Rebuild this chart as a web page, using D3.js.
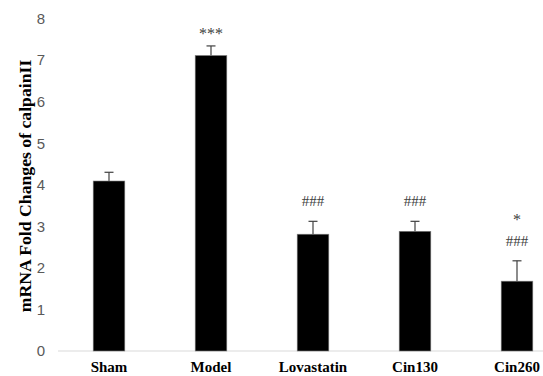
<!DOCTYPE html>
<html><head><meta charset="utf-8">
<script src="https://cdn.jsdelivr.net/npm/d3@7"></script>
<style>body{margin:0;background:#fff}svg{display:block}</style>
</head><body>
<script>
const categories = ["Sham","Model","Lovastatin","Cin130","Cin260"];
const values = [4.09, 7.11, 2.81, 2.88, 1.68];
const errors = [0.21, 0.23, 0.31, 0.24, 0.49];
const sigTop = ["", "***", "###", "###", "###"];
const sigExtra = ["", "", "", "", "*"];
const yTicks = [0,1,2,3,4,5,6,7,8];
const yTitle = "mRNA Fold Changes of calpainII";

const W = 543, H = 376;
const svg = d3.select("body").append("svg").attr("width", W).attr("height", H);
const x = d3.scaleBand().domain(categories).range([58, 568]).paddingInner(0.69).paddingOuter(0.345);
const y = d3.scaleLinear().domain([0, 8]).range([351, 18.5]);

// axis line
svg.append("line").attr("x1", 58).attr("x2", W).attr("y1", y(0)).attr("y2", y(0))
  .attr("stroke", "#d9d9d9").attr("stroke-width", 1);

// y tick labels
svg.append("g").selectAll("text").data(yTicks).join("text")
  .attr("x", 45).attr("y", d => y(d)).attr("dy", "0.36em").attr("text-anchor", "end")
  .attr("font-family", "Liberation Sans, Arial, sans-serif").attr("font-size", 15)
  .attr("fill", "#595959").text(d => d);

// error bars
const eg = svg.append("g").attr("stroke", "#404040").attr("stroke-width", 1.2);
categories.forEach((c, i) => {
  const cx = x(c) + x.bandwidth() / 2;
  eg.append("line").attr("x1", cx).attr("x2", cx).attr("y1", y(values[i])).attr("y2", y(values[i] + errors[i]));
  eg.append("line").attr("x1", cx - 4.5).attr("x2", cx + 4.5).attr("y1", y(values[i] + errors[i])).attr("y2", y(values[i] + errors[i]));
});

// bars
svg.append("g").selectAll("rect").data(categories).join("rect")
  .attr("x", d => x(d)).attr("width", x.bandwidth())
  .attr("y", (d, i) => y(values[i])).attr("height", (d, i) => y(0) - y(values[i]))
  .attr("fill", "#000").attr("stroke", "#808080").attr("stroke-width", 0.6);

// significance marks
categories.forEach((c, i) => {
  const cx = x(c) + x.bandwidth() / 2;
  const top = y(values[i] + errors[i]);
  if (sigTop[i]) {
    const isStar = sigTop[i].startsWith("*");
    svg.append("text").attr("x", cx).attr("y", top - (isStar ? 7 : 15))
      .attr("text-anchor", "middle").attr("font-family", "Liberation Serif, Times New Roman, serif")
      .attr("font-size", isStar ? 16 : 15).attr("fill", "#404040").text(sigTop[i]);
  }
  if (sigExtra[i]) {
    svg.append("text").attr("x", cx).attr("y", top - 36)
      .attr("text-anchor", "middle").attr("font-family", "Liberation Serif, Times New Roman, serif")
      .attr("font-size", 16).attr("fill", "#404040").text(sigExtra[i]);
  }
});

// category labels
svg.append("g").selectAll("text").data(categories).join("text")
  .attr("x", d => x(d) + x.bandwidth() / 2).attr("y", 372).attr("text-anchor", "middle")
  .attr("font-family", "Liberation Serif, Times New Roman, serif").attr("font-weight", "bold")
  .attr("font-size", 15).attr("fill", "#000").text(d => d);

// y title
svg.append("text").attr("transform", "translate(31,186) rotate(-90)")
  .attr("text-anchor", "middle").attr("font-family", "Liberation Serif, Times New Roman, serif")
  .attr("font-weight", "bold").attr("font-size", 17.7).attr("fill", "#000").text(yTitle);
</script>
</body></html>
